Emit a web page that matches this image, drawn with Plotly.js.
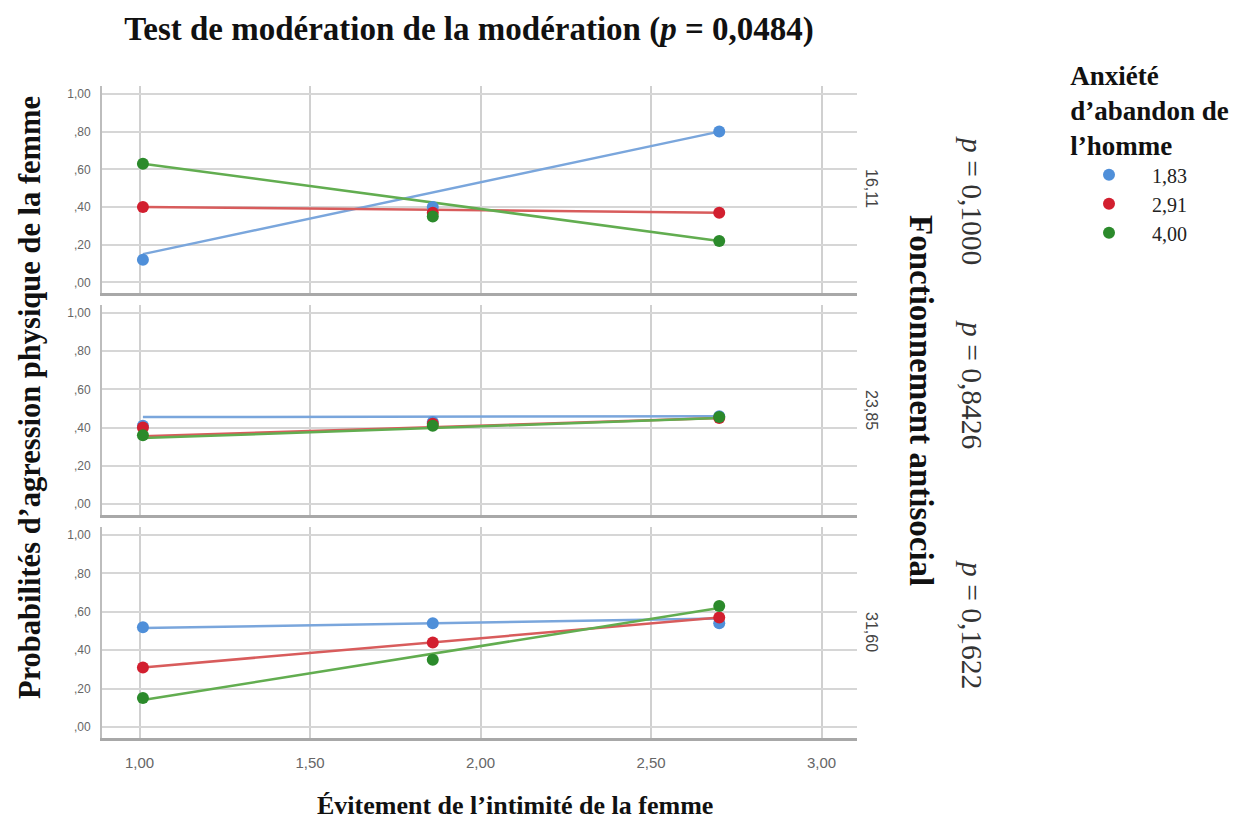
<!DOCTYPE html>
<html>
<head>
<meta charset="utf-8">
<script src="https://cdn.plot.ly/plotly-3.0.1.min.js"></script>
<style>html,body{margin:0;padding:0;background:#fff;}#chart{width:1250px;height:827px;}</style>
</head>
<body>
<div id="chart"></div>
<script>
// ---- Data ----
const xPoints = [1.01, 1.86, 2.70];          // Évitement de l'intimité (points)
const xFit = [1.01, 2.70];                   // fit line ends
const levels = ['1,83', '2,91', '4,00'];     // Anxiété d'abandon de l'homme
const panelLabels = ['16,11', '23,85', '31,60']; // Fonctionnement antisocial
const panelP = ['0,1000', '0,8426', '0,1622'];
const xTickVals = [1.0, 1.5, 2.0, 2.5, 3.0];
const xTickText = ['1,00', '1,50', '2,00', '2,50', '3,00'];
const yTickVals = [0, 0.2, 0.4, 0.6, 0.8, 1.0];
const yTickText = [',00', ',20', ',40', ',60', ',80', '1,00'];

// points per panel, per level (1,83 / 2,91 / 4,00)
const panel1Points = [[0.12, 0.40, 0.80], [0.40, 0.37, 0.37], [0.63, 0.35, 0.22]];
const panel2Points = [[0.41, 0.43, 0.46], [0.40, 0.42, 0.45], [0.36, 0.41, 0.455]];
const panel3Points = [[0.52, 0.54, 0.54], [0.31, 0.44, 0.57], [0.15, 0.35, 0.63]];
// fitted line ends per panel, per level
const panel1Fit = [[0.15, 0.80], [0.40, 0.37], [0.63, 0.22]];
const panel2Fit = [[0.455, 0.46], [0.355, 0.45], [0.345, 0.45]];
const panel3Fit = [[0.515, 0.565], [0.31, 0.57], [0.14, 0.62]];

// ---- Styling ----
const markerColors = ['#4f8fd9', '#d21f2f', '#2b8a2b'];
const lineColors = ['#7aa6dc', '#d85c5c', '#62ad50'];
const serif = 'Liberation Serif, Times New Roman, serif';
const sans = 'Liberation Sans, Arial, sans-serif';

const panelPoints = [panel1Points, panel2Points, panel3Points];
const panelFit = [panel1Fit, panel2Fit, panel3Fit];
const axisIds = [['x', 'y'], ['x2', 'y2'], ['x3', 'y3']];

const traces = [];
for (let p = 0; p < 3; p++) {
  for (let s = 0; s < 3; s++) {
    traces.push({
      type: 'scatter', mode: 'lines', x: xFit, y: panelFit[p][s],
      xaxis: axisIds[p][0], yaxis: axisIds[p][1],
      line: {color: lineColors[s], width: 2.5},
      showlegend: false, hoverinfo: 'skip', legendgroup: levels[s]
    });
  }
  for (let s = 0; s < 3; s++) {
    traces.push({
      type: 'scatter', mode: 'markers', x: xPoints, y: panelPoints[p][s],
      xaxis: axisIds[p][0], yaxis: axisIds[p][1],
      marker: {color: markerColors[s], size: 12},
      name: levels[s], legendgroup: levels[s], showlegend: p === 0
    });
  }
}

const W = 1250, H = 827, L = 102, R = 857, T = 86, B = 738;
const px = v => (v - L) / (R - L);
const py = v => (B - v) / (B - T);

const yRange = [-0.058, 1.042];
function yax(domain) {
  return {
    domain: domain, range: yRange, tickvals: yTickVals, ticktext: yTickText,
    showgrid: true, gridcolor: '#d6d6d6', gridwidth: 2, zeroline: false,
    showline: true, linecolor: '#bdbdbd', linewidth: 2, ticks: '',
    ticklabelstandoff: 7, tickfont: {family: sans, size: 12, color: '#666'},
    fixedrange: true
  };
}
function xax(anchor, showLabels) {
  return {
    anchor: anchor, range: [0.89, 3.104], tickvals: xTickVals, ticktext: xTickText,
    showticklabels: showLabels, showgrid: true, gridcolor: '#d0d0d0', gridwidth: 2,
    zeroline: false, showline: true, linecolor: '#a8a8a8', linewidth: 3, ticks: '',
    ticklabelstandoff: 9, tickfont: {family: sans, size: 15, color: '#666'},
    fixedrange: true
  };
}

const annotations = [];
// strip labels (Fonctionnement antisocial levels)
const stripY = [188, 410, 632];
const pY = [201, 385, 625];
for (let i = 0; i < 3; i++) {
  annotations.push({
    xref: 'paper', yref: 'paper', x: px(872), y: py(stripY[i]),
    text: panelLabels[i], textangle: 90, showarrow: false,
    xanchor: 'center', yanchor: 'middle',
    font: {family: sans, size: 16, color: '#444'}
  });
  annotations.push({
    xref: 'paper', yref: 'paper', x: px(972), y: py(pY[i]),
    text: '<i>p</i> = ' + panelP[i], textangle: 90, showarrow: false,
    xanchor: 'center', yanchor: 'middle',
    font: {family: serif, size: 29.5, color: '#333'}
  });
}
annotations.push({
  xref: 'paper', yref: 'paper', x: px(921), y: py(400),
  text: '<b>Fonctionnement antisocial</b>', textangle: 90, showarrow: false,
  xanchor: 'center', yanchor: 'middle',
  font: {family: serif, size: 33, color: '#111'}
});
annotations.push({
  xref: 'paper', yref: 'paper', x: px(30), y: py(398),
  text: '<b>Probabilités d’agression physique de la femme</b>', textangle: -90, showarrow: false,
  xanchor: 'center', yanchor: 'middle',
  font: {family: serif, size: 30.5, color: '#111'}
});
annotations.push({
  xref: 'paper', yref: 'paper', x: px(515), y: py(805),
  text: '<b>Évitement de l’intimité de la femme</b>', showarrow: false,
  xanchor: 'center', yanchor: 'middle',
  font: {family: serif, size: 26, color: '#111'}
});

const layout = {
  width: W, height: H,
  margin: {l: L, r: W - R, t: T, b: H - B},
  paper_bgcolor: '#fff', plot_bgcolor: '#fff',
  title: {
    text: '<b>Test de modération de la modération (<i>p</i> = 0,0484)</b>',
    x: 469 / W, xref: 'container', xanchor: 'center',
    y: 1 - 28 / H, yref: 'container', yanchor: 'middle',
    font: {family: serif, size: 33, color: '#111'}
  },
  showlegend: true,
  legend: {
    title: {text: '<b>Anxiété<br>d’abandon de<br>l’homme</b>', side: 'top center',
            font: {family: serif, size: 27, color: '#111'}},
    font: {family: serif, size: 20, color: '#222'},
    x: px(1068), xanchor: 'left', y: py(50), yanchor: 'top',
    bgcolor: 'rgba(0,0,0,0)', borderwidth: 0, tracegroupgap: 0,
    indentation: -2, itemwidth: 76
  },
  xaxis: xax('y', false),
  xaxis2: Object.assign(xax('y2', false), {matches: 'x'}),
  xaxis3: Object.assign(xax('y3', true), {matches: 'x'}),
  yaxis: yax([0.682, 1.0]),
  yaxis2: yax([0.342, 0.664]),
  yaxis3: yax([0.0, 0.3236]),
  annotations: annotations
};

Plotly.newPlot('chart', traces, layout, {displayModeBar: false, staticPlot: true});
</script>
</body>
</html>
